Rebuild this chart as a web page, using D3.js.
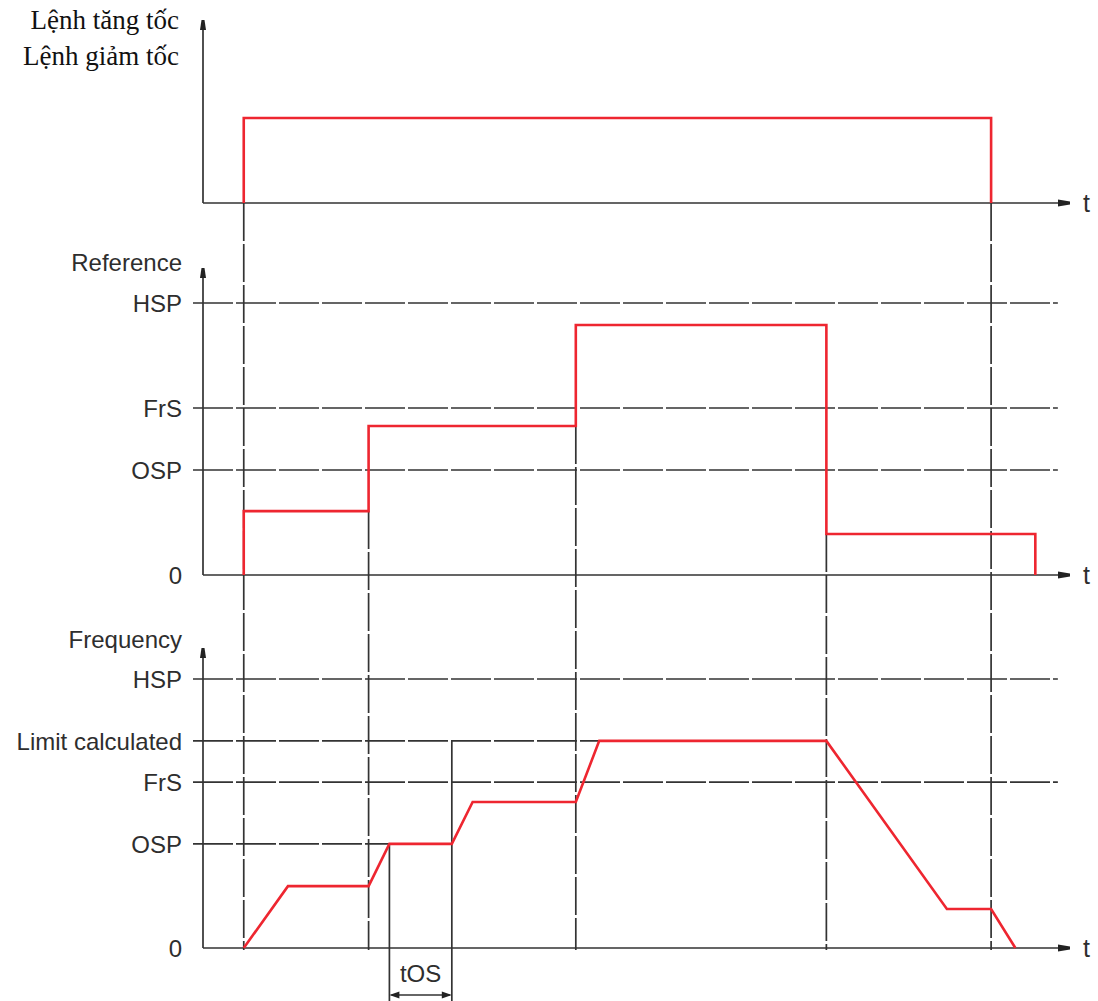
<!DOCTYPE html>
<html>
<head>
<meta charset="utf-8">
<title>Timing diagram</title>
<script src="https://cdn.jsdelivr.net/npm/d3@7"></script>
<style>
  body { margin: 0; background: #fff; }
  .lbl { font-family: "Liberation Sans", Arial, sans-serif; font-size: 24px; fill: #2e2e2e; }
  .vlbl { font-family: "Liberation Serif", "Times New Roman", serif; font-size: 27px; fill: #111; }
  .axis { stroke: #333; stroke-width: 1.7; fill: none; }
  .ref { stroke: #333; stroke-width: 1.7; stroke-dasharray: 40,3; fill: none; }
  .vref { stroke: #333; stroke-width: 1.7; stroke-dasharray: 38,3; fill: none; }
  .sig { stroke: #ee2630; stroke-width: 2.6; fill: none; stroke-linejoin: miter; }
</style>
</head>
<body>
<div id="graphic"></div>
<script>
// time events (0 = vertical axis, 100 = end of t axis)
var cmdTimes = [4.7, 4.7, 90.9, 90.9];
var cmdValues = [0, 1, 1, 0];

// reference panel
var refLevels = ["0", "OSP", "FrS", "HSP"];
var refLevelValues = [0, 38.6, 61.4, 100];
var refTimes = [4.7, 4.7, 19.1, 19.1, 43.0, 43.0, 71.9, 71.9, 96.0, 96.0];
var refValues = [0, 23.5, 23.5, 54.8, 54.8, 91.9, 91.9, 15.1, 15.1, 0];

// frequency panel
var freqLevels = ["0", "OSP", "FrS", "Limit calculated", "HSP"];
var freqLevelValues = [0, 38.7, 61.7, 77.0, 100];
var freqLevelEnds = [100, 21.5, 98.6, 45.7, 98.6];
var freqTimes = [4.7, 9.8, 19.1, 21.5, 28.7, 31.1, 43.0, 45.7, 71.9, 85.8, 90.9, 93.7];
var freqValues = [0, 23.0, 23.0, 38.7, 38.7, 54.3, 54.3, 77.0, 77.0, 14.5, 14.5, 0];

// vertical guide lines: time, start panel, start value
var guideTimes = [4.7, 19.1, 43.0, 71.9, 90.9];
var guideFrom = ["cmd", "ref", "ref", "ref", "cmd"];
var guideFromValue = [0, 23.5, 54.8, 15.1, 0];

var tosStart = 21.5, tosEnd = 28.7;

var W = 1098, H = 1001;
var svg = d3.select("#graphic").append("svg").attr("width", W).attr("height", H);

var x = d3.scaleLinear().domain([0, 100]).range([203, 1070]);
var y = {
  cmd: d3.scaleLinear().domain([0, 1]).range([203, 118]),
  ref: d3.scaleLinear().domain([0, 100]).range([575, 303]),
  freq: d3.scaleLinear().domain([0, 100]).range([948, 679])
};
var axisTop = { cmd: 20, ref: 268, freq: 648 };

var line = function (ys) {
  return d3.line().x(function (d) { return x(d[0]); }).y(function (d) { return ys(d[1]); });
};

// dashed vertical guides
guideTimes.forEach(function (t, i) {
  svg.append("line").attr("class", "vref")
    .attr("x1", x(t)).attr("x2", x(t))
    .attr("y1", y[guideFrom[i]](guideFromValue[i])).attr("y2", y.freq(0) + 2);
});

// tOS markers
[tosStart, tosEnd].forEach(function (t) {
  var v = t === tosStart ? 38.7 : 77.0;
  svg.append("line").attr("class", "axis")
    .attr("x1", x(t)).attr("x2", x(t))
    .attr("y1", y.freq(v)).attr("y2", 1001);
});

// reference level lines
function levels(names, vals, ends, ys) {
  names.forEach(function (n, i) {
    if (vals[i] === 0) return;
    svg.append("line").attr("class", "ref")
      .attr("x1", 193).attr("x2", x(ends ? ends[i] : 98.6))
      .attr("y1", ys(vals[i])).attr("y2", ys(vals[i]));
  });
  names.forEach(function (n, i) {
    svg.append("text").attr("class", "lbl")
      .attr("x", 182).attr("y", ys(vals[i]))
      .attr("dy", "0.36em").attr("text-anchor", "end").text(n);
  });
}
levels(refLevels, refLevelValues, null, y.ref);
levels(freqLevels, freqLevelValues, freqLevelEnds, y.freq);

// axes with arrows
function axes(key) {
  var ys = y[key];
  var x0 = x(0), y0 = ys(0), top = axisTop[key], xe = x(100);
  svg.append("path").attr("class", "axis")
    .attr("d", "M" + x0 + "," + y0 + "V" + (top + 4) + "M" + x0 + "," + y0 + "H" + (xe - 4));
  svg.append("path").attr("fill", "#222")
    .attr("d", "M" + (x0 - 3) + "," + (top + 10) + "L" + (x0 - 1.5) + "," + top + "L" + (x0 + 1.5) + "," + top + "L" + (x0 + 3) + "," + (top + 10) + "Z");
  svg.append("path").attr("fill", "#222")
    .attr("d", "M" + (xe - 12) + "," + (y0 - 3.5) + "L" + xe + "," + (y0 - 1.5) + "L" + xe + "," + (y0 + 1.5) + "L" + (xe - 12) + "," + (y0 + 3.5) + "Z");
  svg.append("text").attr("class", "lbl").style("font-size", "25px")
    .attr("x", 1083).attr("y", y0).attr("dy", "0.36em").text("t");
}
["cmd", "ref", "freq"].forEach(axes);

svg.append("text").attr("class", "lbl").attr("x", 182).attr("y", 271).attr("text-anchor", "end").text("Reference");
svg.append("text").attr("class", "lbl").attr("x", 182).attr("y", 648).attr("text-anchor", "end").text("Frequency");
svg.append("text").attr("class", "vlbl").attr("x", 179).attr("y", 29).attr("text-anchor", "end").text("Lệnh tăng tốc");
svg.append("text").attr("class", "vlbl").attr("x", 179).attr("y", 65).attr("text-anchor", "end").text("Lệnh giảm tốc");

// signals
svg.append("path").attr("class", "sig").attr("d", line(y.cmd)(d3.zip(cmdTimes, cmdValues)));
svg.append("path").attr("class", "sig").attr("d", line(y.ref)(d3.zip(refTimes, refValues)));
svg.append("path").attr("class", "sig").attr("d", line(y.freq)(d3.zip(freqTimes, freqValues)));

// tOS dimension
var ty = 995;
svg.append("text").attr("class", "lbl").attr("x", (x(tosStart) + x(tosEnd)) / 2).attr("y", 982)
  .attr("text-anchor", "middle").text("tOS");
svg.append("line").attr("class", "axis").style("stroke-width", 1.4)
  .attr("x1", x(tosStart) + 2).attr("x2", x(tosEnd) - 2).attr("y1", ty).attr("y2", ty);
svg.append("path").attr("fill", "#222")
  .attr("d", "M" + x(tosStart) + "," + ty + "l10,-3.5v7Z");
svg.append("path").attr("fill", "#222")
  .attr("d", "M" + x(tosEnd) + "," + ty + "l-10,-3.5v7Z");
</script>
</body>
</html>
